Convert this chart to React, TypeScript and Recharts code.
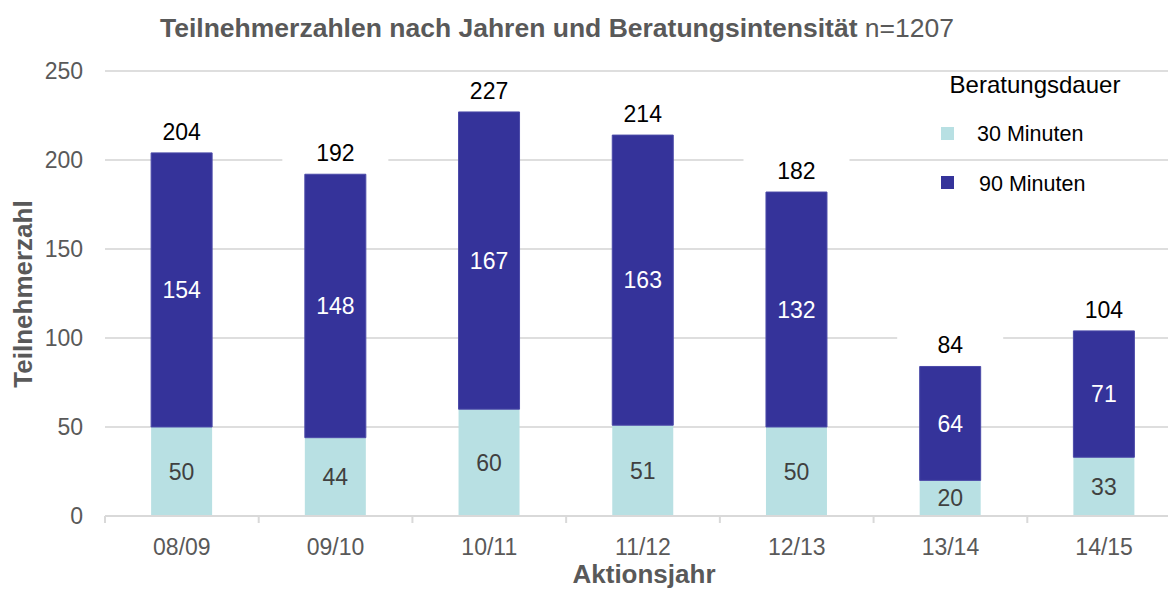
import { Bar, BarChart, CartesianGrid, LabelList, XAxis, YAxis } from 'recharts';

const years = ['08/09', '09/10', '10/11', '11/12', '12/13', '13/14', '14/15'];
const min30 = [50, 44, 60, 51, 50, 20, 33];
const min90 = [154, 148, 167, 163, 132, 64, 71];
const yTicks = [0, 50, 100, 150, 200, 250];

const LIGHT = '#b8e0e3';
const DARK = '#35339a';
const GREY = '#595959';
const FONT = '"Liberation Sans", Arial, Helvetica, sans-serif';

const data = years.map((year, i) => ({
  year,
  min30: min30[i],
  min90: min90[i],
  total: min30[i] + min90[i],
}));

// x-axis ticks sit on the category boundaries, labels in the middle
function YearTick(props: any) {
  const { x, y, payload } = props;
  const half = payload.offset ?? 0;
  return (
    <g>
      <line x1={x - half} x2={x - half} y1={y} y2={y + 7} stroke="#d9d9d9" strokeWidth={2} />
      <text x={x} y={y + 39} textAnchor="middle" fill={GREY} fontSize={23} fontFamily={FONT}>
        {payload.value}
      </text>
    </g>
  );
}

// total above the stack, on a white box that hides the gridline
function TotalLabel(props: any) {
  const { x, y, width, value } = props;
  const cx = x + width / 2;
  const cy = y - 21;
  return (
    <g>
      <rect x={cx - 53} y={cy - 15} width={106} height={30} fill="#fff" />
      <text x={cx} y={cy} textAnchor="middle" dominantBaseline="central" fill="#000" fontSize={23} fontFamily={FONT}>
        {value}
      </text>
    </g>
  );
}

export default function App() {
  return (
    <div
      style={{
        position: 'absolute',
        left: 0,
        top: 0,
        width: 1168,
        height: 592,
        overflow: 'hidden',
        background: '#fff',
        fontFamily: FONT,
      }}
    >
      <BarChart
        width={1190}
        height={592}
        data={data}
        margin={{ top: 71, right: 9, bottom: 0, left: 0 }}
        barCategoryGap="30%"
      >
        <CartesianGrid vertical={false} stroke="#dedede" strokeWidth={2} />
        <XAxis
          dataKey="year"
          height={76}
          tickSize={0}
          tickMargin={0}
          tickLine={false}
          axisLine={{ stroke: '#d9d9d9', strokeWidth: 2 }}
          tick={<YearTick />}
        />
        <YAxis
          width={105}
          domain={[0, 250]}
          ticks={yTicks}
          axisLine={false}
          tickLine={false}
          tickSize={0}
          tickMargin={22}
          tick={{ fill: GREY, fontSize: 23, fontFamily: FONT }}
        />
        <Bar dataKey="min30" stackId="a" fill={LIGHT} isAnimationActive={false}>
          <LabelList dataKey="min30" position="center" fill="#404040" fontSize={23} fontFamily={FONT} />
        </Bar>
        <Bar dataKey="min90" stackId="a" fill={DARK} stroke="#4b4aa8" strokeWidth={1} isAnimationActive={false}>
          <LabelList dataKey="min90" position="center" fill="#fff" fontSize={23} fontFamily={FONT} />
          <LabelList dataKey="total" content={<TotalLabel />} />
        </Bar>
      </BarChart>

      <svg
        width={1168}
        height={592}
        style={{ position: 'absolute', left: 0, top: 0, pointerEvents: 'none' }}
        fontFamily={FONT}
      >
        <text x={160} y={37} fontSize={26.5} fill={GREY}>
          <tspan fontWeight="bold">Teilnehmerzahlen nach Jahren und Beratungsintensität</tspan>
          <tspan> n=1207</tspan>
        </text>
        <text transform="translate(32 294) rotate(-90)" textAnchor="middle" fontSize={26} fontWeight="bold" fill={GREY}>
          Teilnehmerzahl
        </text>
        <text x={644} y={583} textAnchor="middle" fontSize={26} fontWeight="bold" fill={GREY}>
          Aktionsjahr
        </text>

        {/* legend */}
        <text x={1035} y={93} textAnchor="middle" fontSize={24} fill="#000">
          Beratungsdauer
        </text>
        <rect x={941} y={127} width={13} height={13} fill={LIGHT} />
        <text x={977} y={141} fontSize={21.5} fill="#000">
          30 Minuten
        </text>
        <rect x={941} y={176} width={13} height={13} fill={DARK} />
        <text x={979} y={191} fontSize={21.5} fill="#000">
          90 Minuten
        </text>
      </svg>
    </div>
  );
}
